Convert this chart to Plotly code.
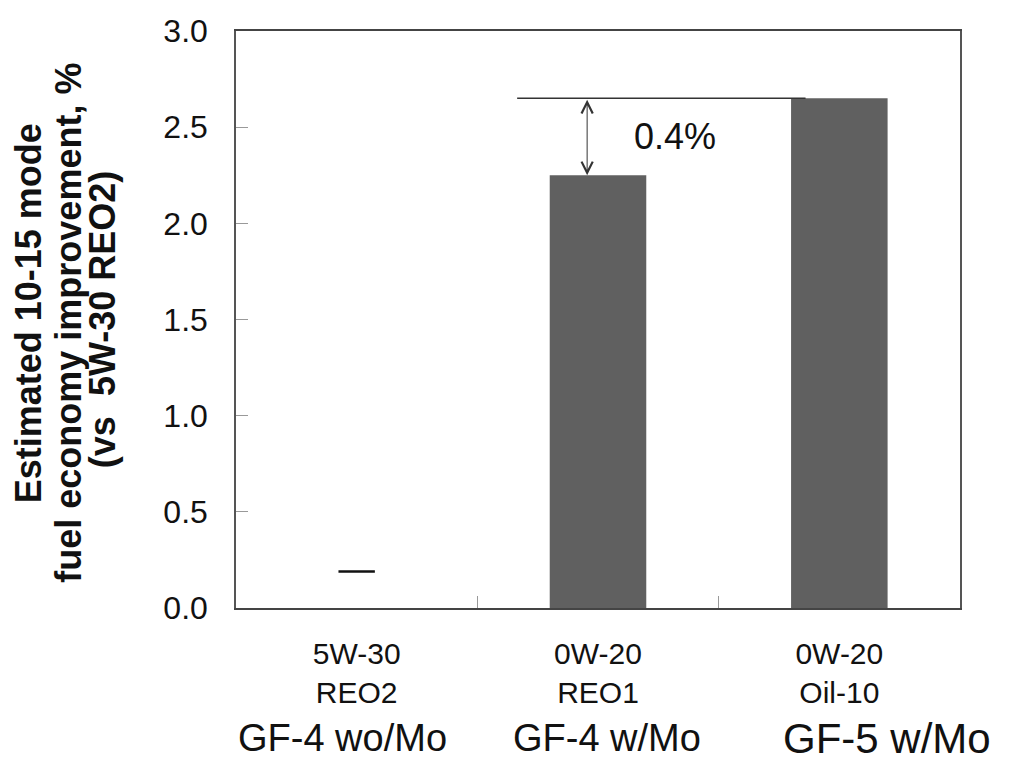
import plotly.graph_objects as go

# Oils compared against the 5W-30 REO2 baseline
oil_grades = ["5W-30", "0W-20", "0W-20"]
oil_names = ["REO2", "REO1", "Oil-10"]
spec_labels = ["GF-4 wo/Mo", "GF-4 w/Mo", "GF-5 w/Mo"]
improvement = [None, 2.25, 2.65]     # estimated fuel economy improvement, %
baseline_mark = [0.19, None, None]   # short dash shown for the baseline oil

categories = [f"{g}<br>{n}" for g, n in zip(oil_grades, oil_names)]
y_ticks = [0.0, 0.5, 1.0, 1.5, 2.0, 2.5, 3.0]
y_title_lines = ["Estimated 10-15 mode",
                 "fuel economy improvement, %",
                 "(vs  5W-30 REO2)"]

FONT = "Liberation Sans, Arial, sans-serif"
BAR = "#606060"
INK = "#111111"

fig = go.Figure()
fig.add_trace(go.Bar(
    x=categories, y=improvement, width=0.4,
    marker=dict(color=BAR, line=dict(width=0)),
    showlegend=False, hoverinfo="y",
))
fig.add_trace(go.Scatter(
    x=categories, y=baseline_mark, mode="markers",
    marker=dict(symbol="line-ew", size=26, line=dict(width=2.5, color=INK)),
    showlegend=False, hoverinfo="y",
))

# reference line at the Oil-10 level and the gap to REO1
ref_level = improvement[2]
low_level = improvement[1]
fig.add_shape(type="line", xref="x", yref="y",
              x0=0.665, x1=1.86, y0=ref_level, y1=ref_level,
              line=dict(color="#333333", width=1.5))
fig.add_annotation(
    x=0.955, y=low_level, ax=0.955, ay=ref_level,
    xref="x", yref="y", axref="x", ayref="y",
    text="", showarrow=True, arrowside="end+start",
    arrowhead=5, arrowsize=2.2, arrowwidth=1.0, arrowcolor="#333333",
    standoff=0, startstandoff=0,
)
fig.add_annotation(
    x=1.32, y=2.45, xref="x", yref="y", showarrow=False,
    text=f"{ref_level - low_level:.1f}%",
    font=dict(family=FONT, size=36, color=INK),
)

# specification row under the category labels
spec_sizes = [38, 38, 42]
spec_shift = [-14, 9, 48]
for i, (lab, sz, sh) in enumerate(zip(spec_labels, spec_sizes, spec_shift)):
    fig.add_annotation(
        x=categories[i], y=-0.226, xref="x", yref="paper",
        yanchor="middle", xshift=sh, showarrow=False, text=lab,
        borderpad=0, font=dict(family=FONT, size=sz, color=INK),
    )

# three-line bold y-axis title, set line by line
title_x = [-0.287, -0.231, -0.185]
title_y = [0.511, 0.494, 0.499]
for txt, tx, ty in zip(y_title_lines, title_x, title_y):
    fig.add_annotation(
        x=tx, y=ty, xref="paper", yref="paper", textangle=-90,
        xanchor="center", yanchor="middle", showarrow=False, text=txt,
        font=dict(family=FONT, size=36, color=INK, weight="bold"),
    )

fig.update_layout(
    width=1012, height=767,
    margin=dict(l=236, r=52, t=31, b=159),
    paper_bgcolor="white", plot_bgcolor="white",
    font=dict(family=FONT, color=INK),
    bargap=0.6,
)
fig.update_xaxes(
    type="category", tickson="boundaries", range=[-0.5, 2.5],
    ticks="inside", ticklen=12, tickwidth=1, tickcolor="#999999",
    showline=True, linecolor="#444444", linewidth=2, mirror=True,
    showgrid=False, tickfont=dict(family=FONT, size=30, color=INK),
    ticklabelstandoff=18,
)
fig.update_yaxes(
    range=[0, 3.0], tickvals=y_ticks, ticktext=[f"{v:.1f}" for v in y_ticks],
    ticks="inside", ticklen=12, tickwidth=1, tickcolor="#999999",
    showline=True, linecolor="#555555", linewidth=1.5, mirror=True,
    showgrid=False, zeroline=False,
    tickfont=dict(family=FONT, size=32, color=INK),
    ticklabelstandoff=20,
)

fig.write_html("out.html")
